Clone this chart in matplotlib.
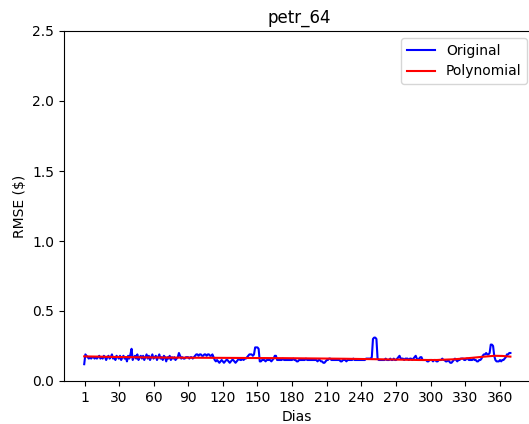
import numpy as np
import matplotlib
matplotlib.use("Agg")
import matplotlib.pyplot as plt

# daily RMSE (day 0 .. 369)
original = [
    0.12, 0.19, 0.18, 0.17, 0.16, 0.17, 0.16, 0.17, 0.17, 0.16,
    0.17, 0.16, 0.17, 0.18, 0.16, 0.17, 0.16, 0.18, 0.17, 0.15,
    0.17, 0.18, 0.16, 0.17, 0.19, 0.16, 0.17, 0.15, 0.18, 0.17,
    0.16, 0.18, 0.15, 0.17, 0.18, 0.16, 0.17, 0.14, 0.18, 0.16,
    0.19, 0.23, 0.15, 0.17, 0.18, 0.16, 0.19, 0.15, 0.17, 0.18,
    0.16, 0.18, 0.15, 0.17, 0.19, 0.16, 0.18, 0.15, 0.17, 0.19,
    0.16, 0.17, 0.18, 0.15, 0.17, 0.19, 0.16, 0.17, 0.15, 0.18,
    0.17, 0.14, 0.17, 0.16, 0.18, 0.15, 0.17, 0.16, 0.17, 0.15,
    0.16, 0.17, 0.20, 0.18, 0.16, 0.17, 0.16, 0.16, 0.17, 0.17,
    0.17, 0.16, 0.17, 0.17, 0.16, 0.17, 0.18, 0.19, 0.19, 0.18,
    0.19, 0.19, 0.18, 0.18, 0.19, 0.19, 0.18, 0.19, 0.19, 0.18,
    0.18, 0.19, 0.17, 0.15, 0.14, 0.15, 0.14, 0.13, 0.14, 0.15,
    0.14, 0.13, 0.14, 0.15, 0.15, 0.14, 0.13, 0.14, 0.15, 0.15,
    0.14, 0.13, 0.14, 0.15, 0.16, 0.15, 0.15, 0.16, 0.15, 0.16,
    0.16, 0.17, 0.18, 0.19, 0.19, 0.19, 0.18, 0.19, 0.24, 0.24,
    0.24, 0.23, 0.14, 0.14, 0.15, 0.15, 0.15, 0.14, 0.15, 0.15,
    0.15, 0.15, 0.14, 0.15, 0.16, 0.18, 0.18, 0.15, 0.15, 0.15,
    0.15, 0.15, 0.16, 0.15, 0.15, 0.15, 0.15, 0.15, 0.15, 0.15,
    0.15, 0.16, 0.15, 0.15, 0.14, 0.14, 0.15, 0.15, 0.15, 0.15,
    0.15, 0.15, 0.16, 0.15, 0.15, 0.15, 0.15, 0.15, 0.15, 0.15,
    0.15, 0.15, 0.14, 0.15, 0.15, 0.14, 0.14, 0.13, 0.13, 0.14,
    0.15, 0.15, 0.16, 0.16, 0.15, 0.15, 0.15, 0.15, 0.15, 0.15,
    0.15, 0.15, 0.14, 0.14, 0.15, 0.15, 0.15, 0.14, 0.15, 0.15,
    0.15, 0.15, 0.15, 0.16, 0.15, 0.15, 0.15, 0.15, 0.15, 0.15,
    0.15, 0.15, 0.15, 0.15, 0.16, 0.16, 0.16, 0.16, 0.16, 0.17,
    0.30, 0.31, 0.31, 0.30, 0.16, 0.15, 0.15, 0.15, 0.15, 0.15,
    0.15, 0.16, 0.15, 0.15, 0.15, 0.16, 0.15, 0.15, 0.16, 0.15,
    0.15, 0.16, 0.17, 0.18, 0.16, 0.16, 0.16, 0.15, 0.16, 0.16,
    0.16, 0.15, 0.16, 0.16, 0.15, 0.16, 0.17, 0.18, 0.16, 0.15,
    0.16, 0.17, 0.17, 0.15, 0.15, 0.15, 0.15, 0.14, 0.14, 0.15,
    0.15, 0.15, 0.14, 0.15, 0.15, 0.14, 0.14, 0.15, 0.15, 0.15,
    0.16, 0.15, 0.15, 0.14, 0.14, 0.15, 0.14, 0.13, 0.13, 0.14,
    0.15, 0.16, 0.15, 0.14, 0.15, 0.15, 0.16, 0.16, 0.16, 0.15,
    0.15, 0.16, 0.16, 0.15, 0.15, 0.15, 0.15, 0.16, 0.15, 0.15,
    0.14, 0.14, 0.15, 0.15, 0.16, 0.18, 0.19, 0.19, 0.20, 0.19,
    0.19, 0.20, 0.26, 0.26, 0.25, 0.18, 0.15, 0.14, 0.14, 0.14,
    0.15, 0.14, 0.15, 0.15, 0.16, 0.17, 0.19, 0.19, 0.20, 0.20,
]

# polynomial fit curve
poly_days = [0, 25, 50, 75, 100, 125, 150, 175, 200, 225, 250, 270,
             290, 305, 320, 335, 345, 355, 362, 369]
poly_vals = [0.176, 0.172, 0.169, 0.167, 0.166, 0.165, 0.164, 0.163,
             0.161, 0.159, 0.156, 0.153, 0.150, 0.150, 0.155, 0.165,
             0.173, 0.180, 0.179, 0.174]

tick_days = [1] + list(range(30, 361, 30))

fig = plt.figure(figsize=(5.29, 4.24), dpi=100)
# the reference is cut off on the right, so the axes run past the figure edge
ax = fig.add_axes([64 / 529, 1 - 381 / 424, 500 / 529, 350 / 424])

ax.plot(np.arange(len(original)), original, color='blue', label='Original')
ax.plot(poly_days, poly_vals, color='red', label='Polynomial')

ax.set_xlim(-17.5, -17.5 + 500 / 1.155)
ax.set_ylim(0, 2.5)
ax.set_xticks(tick_days)
ax.set_title('petr_64', x=(299 - 64) / 500)
ax.set_xlabel('Dias', x=(297 - 64) / 500)
ax.set_ylabel('RMSE ($)')
ax.legend(loc='upper right', bbox_to_anchor=(527 / 529, 1 - 38 / 424),
          bbox_transform=fig.transFigure, borderaxespad=0)

fig.savefig('out.png', dpi=100)
